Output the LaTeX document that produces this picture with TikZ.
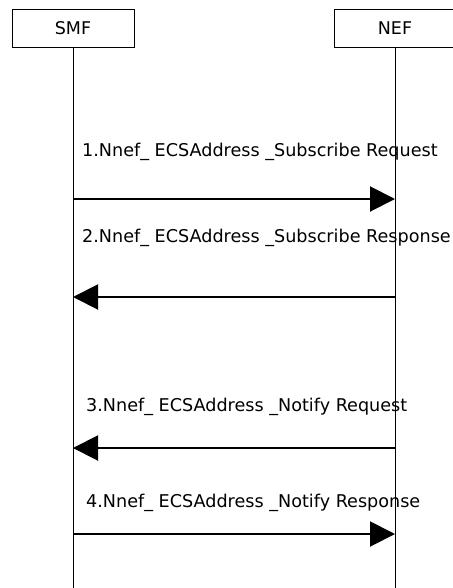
\documentclass[tikz,border=0pt]{standalone}
\usepackage{fontspec}
\setmainfont{DejaVu Sans}
\usetikzlibrary{arrows.meta}

\tikzset{
    entity/.style={draw, line width=0.8pt, minimum width=122pt, minimum height=38pt, inner sep=0pt, font=\fontsize{17.5}{19}\selectfont},
    lifeline/.style={line width=0.8pt},
    msg/.style={line width=2pt, -{Triangle[length=25pt,width=25pt]}},
    msglabel/.style={anchor=base west, inner sep=0pt, font=\fontsize{17.6}{19}\selectfont}
}

\begin{document}
\begin{tikzpicture}[x=1pt,y=-1pt]
    \useasboundingbox (0,0) rectangle (452,588);
    % Entities
    \node[entity] (SMF) at (73,28) {SMF};
    \node[entity] (NEF) at (395,28) {NEF};
    \coordinate (SMF-end) at (73,588);
    \coordinate (NEF-end) at (395,588);
    % Lifelines
    \draw[lifeline] (SMF) -- (SMF-end);
    \draw[lifeline] (NEF) -- (NEF-end);
    % Messages
    \foreach \i/\y/\ly/\lx in {1/199/157/82,2/297/242/82,3/448/411/86,4/534/507/86} {
        \coordinate (SMF-\i) at (73,\y);
        \coordinate (NEF-\i) at (395,\y);
        \coordinate (Label-\i) at (\lx,\ly);
    }
    \node[msglabel] (Msg-1) at (Label-1) {1.Nnef\_ ECSAddress \_Subscribe Request};
    \node[msglabel] (Msg-2) at (Label-2) {2.Nnef\_ ECSAddress \_Subscribe Response};
    \node[msglabel] (Msg-3) at (Label-3) {3.Nnef\_ ECSAddress \_Notify Request};
    \node[msglabel] (Msg-4) at (Label-4) {4.Nnef\_ ECSAddress \_Notify Response};
    % Arrows
    \draw[msg] (SMF-1) -- (NEF-1);
    \draw[msg] (NEF-2) -- (SMF-2);
    \draw[msg] (NEF-3) -- (SMF-3);
    \draw[msg] (SMF-4) -- (NEF-4);
\end{tikzpicture}
\end{document}
